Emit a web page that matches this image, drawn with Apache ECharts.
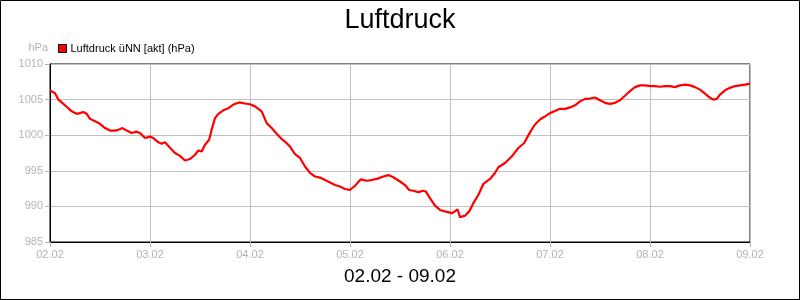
<!DOCTYPE html>
<html>
<head>
<meta charset="utf-8">
<script src="https://cdn.jsdelivr.net/npm/echarts@6/dist/echarts.min.js"></script>
<style>
html,body{margin:0;padding:0;background:#fff;}
#c{width:800px;height:300px;}
</style>
</head>
<body>
<div id="c"></div>
<script>
// hours since 02.02 00:00
const hours = [0,1.2,2.0,2.8,4.0,5.2,6.4,7.2,8.0,8.8,9.6,10.8,12.0,13.2,14.4,15.6,16.6,17.4,18.4,19.6,20.8,21.6,22.8,24.0,24.8,26.0,26.8,27.6,28.8,30.0,31.2,32.4,33.6,34.8,35.6,36.4,37.2,38.2,38.8,39.6,40.4,41.6,42.8,44.0,45.4,46.8,48.0,49.2,50.8,52.0,53.2,54.4,55.6,56.4,57.6,58.8,60.0,61.2,62.4,63.6,64.8,66.0,67.2,68.4,69.6,70.8,72.0,73.2,74.6,76.0,77.2,78.6,80.0,81.2,82.4,84.0,85.2,86.2,87.2,88.4,89.6,90.2,91.2,92.4,93.6,94.8,96.4,97.2,97.8,98.4,99.6,100.6,101.6,102.8,104.0,105.6,106.8,107.6,109.2,110.8,112.4,113.8,115.2,116.4,117.6,118.8,120.0,121.2,122.4,123.6,124.8,126.0,127.2,128.4,129.6,130.8,132.0,133.2,134.4,135.6,136.8,138.0,139.2,140.4,141.6,142.8,144.0,145.2,146.4,147.6,148.8,150.0,151.2,152.4,153.6,154.8,156.0,157.2,158.4,159.2,160.0,160.8,162.0,163.2,164.4,165.6,166.8,168.0];
const pressure = [1006.3,1005.9,1005.0,1004.6,1004.0,1003.35,1003.0,1003.1,1003.25,1003.0,1002.3,1001.95,1001.6,1001.0,1000.65,1000.65,1000.8,1001.0,1000.65,1000.3,1000.5,1000.3,999.6,999.8,999.6,999.0,998.8,999.0,998.25,997.5,997.1,996.45,996.65,997.25,997.85,997.7,998.65,999.35,1000.8,1002.4,1003.0,1003.5,1003.8,1004.3,1004.6,1004.45,1004.35,1004.05,1003.35,1001.7,1001.0,1000.2,999.45,999.1,998.4,997.35,996.8,995.6,994.7,994.2,994.05,993.7,993.35,993.0,992.8,992.45,992.3,992.9,993.8,993.6,993.7,993.9,994.2,994.4,994.1,993.5,993.0,992.3,992.2,992.0,992.2,992.1,991.15,990.1,989.5,989.3,989.05,989.3,989.6,988.5,988.7,989.3,990.45,991.6,993.15,993.85,994.7,995.5,996.1,997.0,998.2,998.9,1000.4,1001.5,1002.2,1002.65,1003.1,1003.4,1003.7,1003.7,1003.9,1004.2,1004.75,1005.1,1005.15,1005.3,1004.9,1004.55,1004.4,1004.55,1004.9,1005.55,1006.2,1006.75,1007.0,1007.0,1006.9,1006.9,1006.8,1006.9,1006.9,1006.75,1007.0,1007.1,1007.0,1006.75,1006.4,1005.85,1005.25,1005.0,1005.1,1005.7,1006.3,1006.65,1006.9,1007.0,1007.1,1007.25];
const dayLabels = ["02.02","03.02","04.02","05.02","06.02","07.02","08.02","09.02"];
const seriesName = "Luftdruck üNN [akt] (hPa)";

const chart = echarts.init(document.getElementById('c'), null, {renderer:'canvas'});
const FONT = "'Liberation Sans', Arial, sans-serif";
const LABEL_COLOR = '#b4b4b4';
const GRID_COLOR = '#c0c0c0';

chart.setOption({
  animation: false,
  backgroundColor: '#fff',
  textStyle: {fontFamily: FONT},
  title: [
    {text: 'Luftdruck', left: 'center', top: 2,
     textStyle: {fontFamily: FONT, fontSize: 27, fontWeight: 'normal', color: '#000'}},
    {text: '02.02 - 09.02', left: 'center', top: 262,
     textStyle: {fontFamily: FONT, fontSize: 19, fontWeight: 'normal', color: '#000'}}
  ],
  legend: {
    left: 53, top: 38,
    itemWidth: 8, itemHeight: 8, itemGap: 4,
    icon: 'rect',
    textStyle: {fontFamily: FONT, fontSize: 11, color: '#000', padding: [0,0,0,-1]},
    itemStyle: {borderColor: '#000', borderWidth: 1},
    data: [seriesName]
  },
  grid: {left: 50, right: 50, top: 64, bottom: 58, show: true, borderColor: '#000', borderWidth: 1, containLabel: false},
  xAxis: {
    type: 'value', min: 0, max: 168, interval: 24,
    axisLine: {show: true, lineStyle: {color: '#000'}},
    axisTick: {show: true, length: 5, lineStyle: {color: LABEL_COLOR}},
    axisLabel: {color: LABEL_COLOR, fontSize: 11, fontFamily: FONT, margin: 7,
      formatter: v => dayLabels[Math.round(v / 24)]},
    splitLine: {show: true, lineStyle: {color: GRID_COLOR}}
  },
  yAxis: {
    type: 'value', min: 985, max: 1010, interval: 5,
    name: 'hPa', nameLocation: 'end', nameGap: 11,
    nameTextStyle: {color: LABEL_COLOR, fontSize: 11, fontFamily: FONT, align: 'right', padding: [0, 2, 0, 0]},
    axisLine: {show: true, lineStyle: {color: '#000'}},
    axisTick: {show: true, length: 5, lineStyle: {color: LABEL_COLOR}},
    axisLabel: {color: LABEL_COLOR, fontSize: 11, fontFamily: FONT, margin: 7,
      formatter: v => String(v)},
    splitLine: {show: true, lineStyle: {color: GRID_COLOR}}
  },
  series: [{
    name: seriesName,
    type: 'line',
    data: hours.map((h, i) => [h, pressure[i]]),
    showSymbol: false,
    symbol: 'none',
    smooth: false,
    itemStyle: {color: '#ff0000'},
    lineStyle: {color: '#ff0000', width: 2.2}
  }],
  graphic: [{
    type: 'rect', shape: {x: 0.5, y: 0.5, width: 799, height: 299},
    style: {fill: 'none', stroke: '#000', lineWidth: 1}, silent: true, z: 100
  }]
});
</script>
</body>
</html>
